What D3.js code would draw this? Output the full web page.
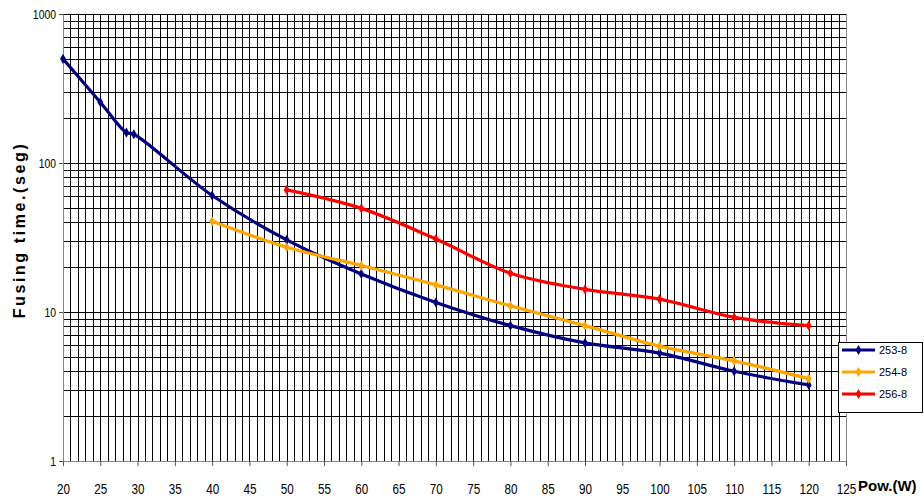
<!DOCTYPE html>
<html>
<head>
<meta charset="utf-8">
<script src="https://cdn.jsdelivr.net/npm/d3@7"></script>
<style>
  body { margin: 0; background: #fff; }
  .tickText { font-family: "Liberation Sans", Arial, sans-serif; fill: #000; }
</style>
</head>
<body>
<div id="chart"></div>
<script>
// Chart data
var xTicks = [20, 25, 30, 35, 40, 45, 50, 55, 60, 65, 70, 75, 80, 85, 90, 95, 100, 105, 110, 115, 120, 125];
var yTicks = [1, 10, 100, 1000];

var xBlue = [20, 25, 28.5, 29.5, 40, 50, 60, 70, 80, 90, 100, 110, 120];
var blueValues = [500, 256, 160, 156, 60.5, 30.5, 18, 11.6, 8.1, 6.2, 5.3, 4.0, 3.24];

var xOrange = [40, 50, 60, 70, 80, 90, 100, 110, 120];
var orangeValues = [40.6, 27.2, 20.5, 15.2, 11.0, 8.1, 5.9, 4.7, 3.57];

var xRed = [50, 60, 70, 80, 90, 100, 110, 120];
var redValues = [66, 49.6, 30.9, 18.2, 14.2, 12.2, 9.2, 8.1];

var seriesNames = ["253-8", "254-8", "256-8"];
var seriesColors = ["#000080", "#FFA500", "#FF0000"];

// SVG size and plot area
var svgWidth = 924;
var svgHeight = 499;
var margin = { top: 14, right: 78, bottom: 38, left: 63 };
var width = svgWidth - margin.left - margin.right;
var height = svgHeight - margin.top - margin.bottom;

var svg = d3.select("#chart")
  .append("svg")
  .attr("width", svgWidth)
  .attr("height", svgHeight);

var chartGroup = svg.append("g")
  .attr("transform", `translate(${margin.left}, ${margin.top})`);

// Scales
var xScale = d3.scaleLinear().domain([20, 125]).range([0, width]);
var yScale = d3.scaleLog().domain([1, 1000]).range([height, 0]);

// Grid: vertical every 1 W, horizontal at 1..9 of each decade
var gridX = d3.range(20, 126, 1);
var gridY = [];
[1, 10, 100].forEach(function(d) {
  for (var k = 1; k <= 9; k++) gridY.push(d * k);
});
gridY.push(1000);

chartGroup.selectAll(".vgrid")
  .data(gridX)
  .enter()
  .append("line")
  .attr("x1", d => Math.round(xScale(d)) + 0.5)
  .attr("x2", d => Math.round(xScale(d)) + 0.5)
  .attr("y1", 0)
  .attr("y2", height)
  .attr("stroke", d => (d === 20 || d === 125) ? "#888" : "#000")
  .attr("stroke-width", 1);

chartGroup.selectAll(".hgrid")
  .data(gridY)
  .enter()
  .append("line")
  .attr("x1", 0)
  .attr("x2", width)
  .attr("y1", d => Math.round(yScale(d)) + 0.5)
  .attr("y2", d => Math.round(yScale(d)) + 0.5)
  .attr("stroke", d => d === 1 ? "#888" : "#000")
  .attr("stroke-width", 1);

// Axes
var bottomAxis = d3.axisBottom(xScale).tickValues(xTicks).tickSize(5).tickSizeOuter(0);
var leftAxis = d3.axisLeft(yScale).tickValues(yTicks).tickFormat(d3.format("d")).tickSize(4).tickSizeOuter(0);

var xAxisG = chartGroup.append("g")
  .attr("transform", `translate(0, ${height})`)
  .call(bottomAxis);
xAxisG.select(".domain").attr("stroke", "#888");
xAxisG.selectAll(".tick line").attr("stroke", "#555");
xAxisG.selectAll(".tick text")
  .attr("class", "tickText")
  .attr("y", 0)
  .attr("dy", 0)
  .attr("transform", "translate(0, 33) scale(0.78, 1)")
  .style("font-size", "15px");

var yAxisG = chartGroup.append("g").call(leftAxis);
yAxisG.select(".domain").attr("stroke", "#888");
yAxisG.selectAll(".tick line").attr("stroke", "#555");
yAxisG.selectAll(".tick text")
  .attr("class", "tickText")
  .attr("x", 0)
  .attr("transform", "translate(-7, 0) scale(0.8, 1)")
  .style("font-size", "13px");

// Series
var series = [
  { name: seriesNames[0], color: seriesColors[0], xs: xBlue, ys: blueValues },
  { name: seriesNames[1], color: seriesColors[1], xs: xOrange, ys: orangeValues },
  { name: seriesNames[2], color: seriesColors[2], xs: xRed, ys: redValues }
];

var line = d3.line()
  .x(d => xScale(d[0]))
  .y(d => yScale(d[1]))
  .curve(d3.curveCatmullRom.alpha(0.5));

var diamond = d3.symbol().type(d3.symbolDiamond).size(30);

series.forEach(function(s) {
  var pts = s.xs.map((x, i) => [x, s.ys[i]]);
  chartGroup.append("path")
    .datum(pts)
    .attr("fill", "none")
    .attr("stroke", s.color)
    .attr("stroke-width", 3.2)
    .attr("stroke-linejoin", "round")
    .attr("d", line);
  chartGroup.selectAll(null)
    .data(pts)
    .enter()
    .append("path")
    .attr("d", diamond)
    .attr("transform", d => `translate(${xScale(d[0])}, ${yScale(d[1])})`)
    .attr("fill", s.color);
});

// Axis titles
svg.append("text")
  .attr("x", 858)
  .attr("y", 491)
  .style("font-family", "'Liberation Sans', Arial, sans-serif")
  .style("font-weight", "bold")
  .style("font-size", "15px")
  .text("Pow.(W)");

svg.append("text")
  .attr("transform", "translate(25, 230) rotate(-90)")
  .style("text-anchor", "middle")
  .style("font-family", "'Liberation Sans', Arial, sans-serif")
  .style("font-weight", "bold")
  .style("font-size", "16px")
  .style("letter-spacing", "2.6px")
  .text("Fusing time.(seg)");

// Legend
var legend = svg.append("g").attr("transform", "translate(838, 342)");
legend.append("rect")
  .attr("x", 0.5)
  .attr("y", 0.5)
  .attr("width", 84)
  .attr("height", 70)
  .attr("fill", "#fff")
  .attr("stroke", "#000");

series.forEach(function(s, i) {
  var ly = 8 + i * 22;
  legend.append("line")
    .attr("x1", 4).attr("x2", 37)
    .attr("y1", ly).attr("y2", ly)
    .attr("stroke", s.color)
    .attr("stroke-width", 3);
  legend.append("path")
    .attr("d", diamond)
    .attr("transform", `translate(20.5, ${ly})`)
    .attr("fill", s.color);
  legend.append("text")
    .attr("x", 41)
    .attr("y", ly)
    .attr("dy", "0.35em")
    .style("font-family", "'Liberation Sans', Arial, sans-serif")
    .style("font-size", "11px")
    .text(s.name);
});
</script>
</body>
</html>
